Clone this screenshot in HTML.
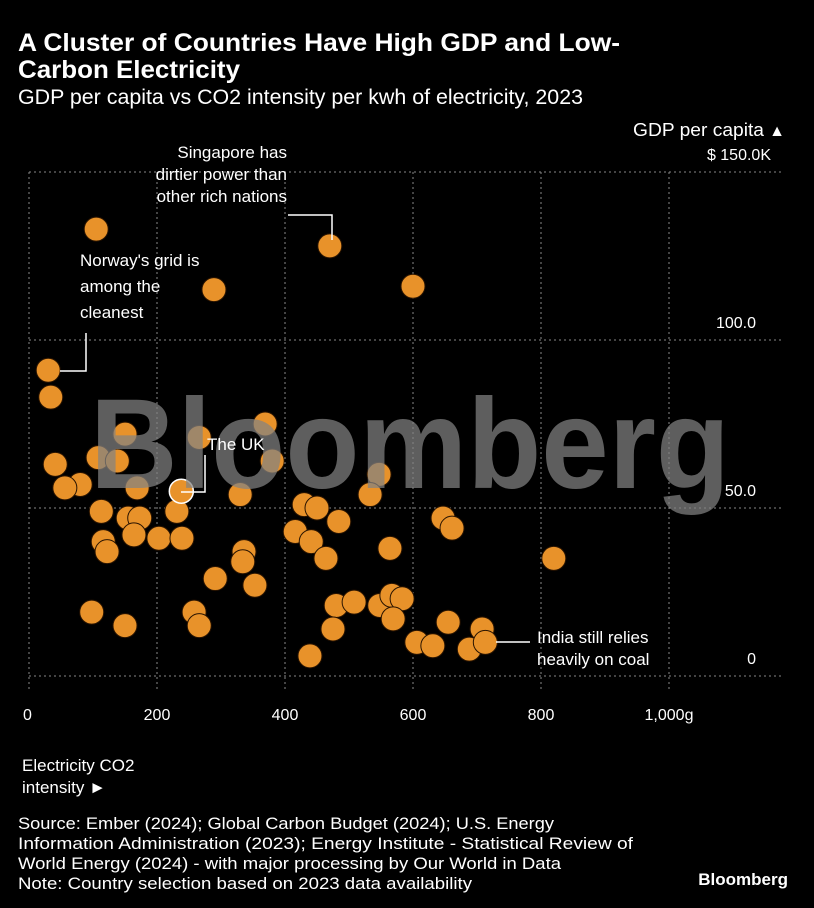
<!DOCTYPE html>
<html><head><meta charset="utf-8"><style>
body{margin:0;background:#000;}
svg{display:block;font-family:"Liberation Sans",sans-serif;}
</style></head><body>
<svg id="chart" width="814" height="908" viewBox="0 0 814 908">
<rect width="814" height="908" fill="#000"/>
<text x="18" y="51" fill="#fff" font-size="25" font-weight="bold" textLength="602" lengthAdjust="spacingAndGlyphs">A Cluster of Countries Have High GDP and Low-</text>
<text x="18" y="78" fill="#fff" font-size="25" font-weight="bold" textLength="222" lengthAdjust="spacingAndGlyphs">Carbon Electricity</text>
<text x="18" y="104" fill="#fff" font-size="21" textLength="565" lengthAdjust="spacingAndGlyphs">GDP per capita vs CO2 intensity per kwh of electricity, 2023</text>
<text x="764" y="136" fill="#fff" font-size="18" text-anchor="end" textLength="131" lengthAdjust="spacingAndGlyphs">GDP per capita</text>
<text x="777" y="136" fill="#fff" font-size="16" text-anchor="middle">▲</text>
<g id="grid"></g>
<g id="xticks"></g>
<g id="yticks"></g>
<g id="points"></g>
<text x="410" y="488" fill="rgba(130,130,130,0.72)" font-size="128" font-weight="bold" text-anchor="middle" textLength="640" lengthAdjust="spacingAndGlyphs">Bloomberg</text>
<g fill="none" stroke="#fff" stroke-width="1.5">
<polyline points="288,215 332,215 332,240"/>
<polyline points="60,371 86,371 86,333"/>
<polyline points="181,492 205,492 205,455"/>
<line x1="496" y1="642" x2="530" y2="642"/>
</g>
<g fill="#fff" font-size="17">
<text x="287" y="158" text-anchor="end"><tspan x="287">Singapore has</tspan><tspan x="287" dy="22">dirtier power than</tspan><tspan x="287" dy="22">other rich nations</tspan></text>
<text x="80" y="266"><tspan x="80">Norway's grid is</tspan><tspan x="80" dy="26">among the</tspan><tspan x="80" dy="26">cleanest</tspan></text>
<text x="207" y="450">The UK</text>
<text x="537" y="643"><tspan x="537">India still relies</tspan><tspan x="537" dy="22">heavily on coal</tspan></text>
</g>
<text x="22" y="771" fill="#fff" font-size="17"><tspan x="22">Electricity CO2</tspan><tspan x="22" dy="22">intensity ►</tspan></text>
<g fill="#fff" font-size="17">
<text x="18" y="829" textLength="536" lengthAdjust="spacingAndGlyphs">Source: Ember (2024); Global Carbon Budget (2024); U.S. Energy</text>
<text x="18" y="849" textLength="615" lengthAdjust="spacingAndGlyphs">Information Administration (2023); Energy Institute - Statistical Review of</text>
<text x="18" y="869" textLength="543" lengthAdjust="spacingAndGlyphs">World Energy (2024) - with major processing by Our World in Data</text>
<text x="18" y="889" textLength="454" lengthAdjust="spacingAndGlyphs">Note: Country selection based on 2023 data availability</text>
</g>
<text x="788" y="885" fill="#fff" font-size="17" font-weight="bold" text-anchor="end">Bloomberg</text>
</svg>
<script>
const xTicks = [0, 200, 400, 600, 800, 1000];
const xTickLabels = ["0", "200", "400", "600", "800", "1,000g"];
const yTicks = [0, 50, 100, 150];
const yTickLabels = ["0", "50.0", "100.0", "$ 150.0K"];
const co2 = [105,470,289,600,30,34,150,266,369,380,108,138,41,80,56,169,330,113,155,173,231,116,122,164,203,239,336,334,291,353,98,150,258,266,430,450,484,416,441,464,564,547,533,480,508,548,567,583,569,475,439,606,647,661,820,655,631,688,708,713];
const gdp = [133,128,115,116,91,83,72,71,75,64,65,64,63,57,56,56,54,49,47,47,49,40,37,42,41,41,37,34,29,27,19,15,19,15,51,50,46,43,40,35,38,60,54,21,22,21,24,23,17,14,6,10,47,44,35,16,9,8,14,10];
const ukCo2 = 238, ukGdp = 55;
const NS = "http://www.w3.org/2000/svg";
const xs = v => 29 + v * 0.64;
const ys = v => 676 - v * 3.36;
const grid = document.getElementById('grid');
xTicks.forEach((t, i) => {
  const l = document.createElementNS(NS, 'line');
  l.setAttribute('x1', xs(t)); l.setAttribute('x2', xs(t));
  l.setAttribute('y1', ys(150)); l.setAttribute('y2', 690);
  l.setAttribute('stroke', '#888'); l.setAttribute('stroke-dasharray', '2,3');
  
  
  grid.appendChild(l);
  const tx = document.createElementNS(NS, 'text');
  tx.setAttribute('x', i === 0 ? xs(t) - 6 : xs(t)); tx.setAttribute('y', 720);
  tx.setAttribute('fill', '#fff'); tx.setAttribute('font-size', '16');
  tx.setAttribute('text-anchor', i === 0 ? 'start' : 'middle');
  tx.textContent = xTickLabels[i];
  
  
  document.getElementById('xticks').appendChild(tx);
});
yTicks.forEach((t, i) => {
  const l = document.createElementNS(NS, 'line');
  l.setAttribute('x1', 29); l.setAttribute('x2', 781);
  l.setAttribute('y1', ys(t)); l.setAttribute('y2', ys(t));
  l.setAttribute('stroke', '#888'); l.setAttribute('stroke-dasharray', '2,3');
  
  
  grid.appendChild(l);
  const tx = document.createElementNS(NS, 'text');
  tx.setAttribute('x', i === 3 ? 771 : 756); tx.setAttribute('y', ys(t) - 12);
  tx.setAttribute('fill', '#fff'); tx.setAttribute('font-size', '16');
  tx.setAttribute('text-anchor', 'end');
  tx.textContent = yTickLabels[i];
  
  
  document.getElementById('yticks').appendChild(tx);
});
const pts = document.getElementById('points');
co2.forEach((c, i) => {
  const p = document.createElementNS(NS, 'circle');
  p.setAttribute('cx', xs(c)); p.setAttribute('cy', ys(gdp[i])); p.setAttribute('r', 12);
  p.setAttribute('fill', '#e8922a'); p.setAttribute('stroke', '#2a1400'); p.setAttribute('stroke-width', '1');
  
  
  pts.appendChild(p);
});
const uk = document.createElementNS(NS, 'circle');
uk.setAttribute('cx', xs(ukCo2)); uk.setAttribute('cy', ys(ukGdp)); uk.setAttribute('r', 12);
uk.setAttribute('fill', '#e8922a'); uk.setAttribute('stroke', '#fff'); uk.setAttribute('stroke-width', '1.5');


pts.appendChild(uk);
</script>
</body></html>
